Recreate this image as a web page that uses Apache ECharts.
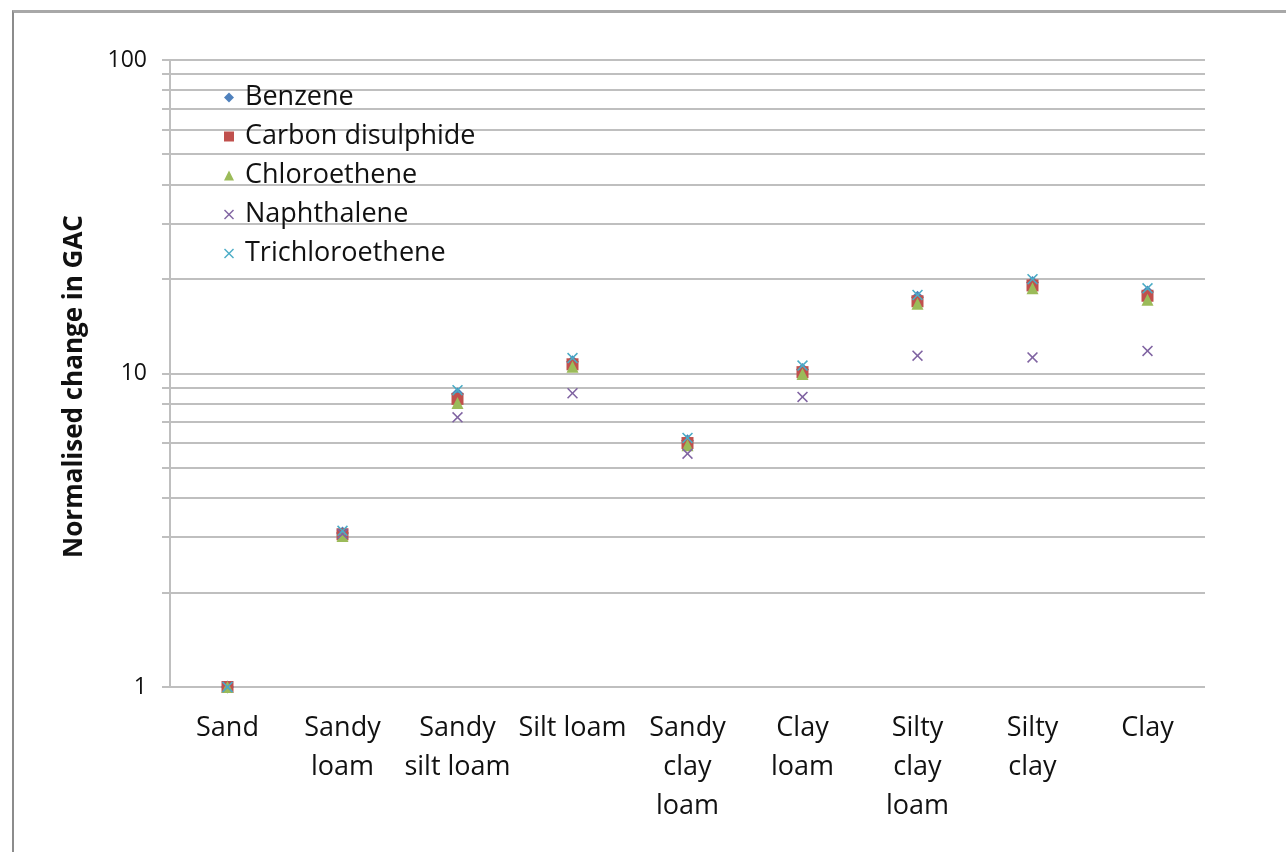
<!DOCTYPE html>
<html>
<head>
<meta charset="utf-8">
<title>Normalised change in GAC by soil type</title>
<script src="https://cdn.jsdelivr.net/npm/echarts@6/dist/echarts.min.js"></script>
<style>
  html, body { margin: 0; padding: 0; background: #ffffff; }
  #frame {
    position: absolute; left: 12px; top: 10px; width: 1300px; height: 860px;
    border-top: 3px solid #a8a8a8; border-left: 2px solid #8c8c8c;
  }
  #chart { position: absolute; left: 0; top: 0; width: 1286px; height: 852px; }
</style>
</head>
<body>
<div id="frame"></div>
<div id="chart"></div>
<script>
// Soil texture classes along the category axis
const soilTypes = ['Sand', 'Sandy\nloam', 'Sandy\nsilt loam', 'Silt loam', 'Sandy\nclay\nloam',
                   'Clay\nloam', 'Silty\nclay\nloam', 'Silty\nclay', 'Clay'];

// Normalised change in GAC for each contaminant
const benzene         = [1, 3.10, 8.60, 10.9, 6.10, 10.3, 17.5, 19.5, 18.2];
const carbonDisulph   = [1, 3.07, 8.30, 10.7, 6.00, 10.1, 17.0, 19.1, 17.7];
const chloroethene    = [1, 3.03, 8.05, 10.5, 5.90, 9.97, 16.7, 18.7, 17.2];
const naphthalene     = [1, 3.08, 7.25, 8.65, 5.55, 8.42, 11.4, 11.25, 11.8];
const trichloroethene = [1, 3.15, 8.85, 11.2, 6.23, 10.6, 17.8, 20.0, 18.7];

// Horizontal rules of the log axis: every 1..9 multiple of each decade
const gridValues = [1, 2, 3, 4, 5, 6, 7, 8, 9, 10, 20, 30, 40, 50, 60, 70, 80, 90, 100];

const FONT = '"Open Sans", "DejaVu Sans", sans-serif';
const TEXT = '#111111';
const RULE = '#bfbfbf';

// Simple X cross used for the two "x" style markers
const crossPath = 'path://M1,0L5,4L9,0L10,1L6,5L10,9L9,10L5,6L1,10L0,9L4,5L0,1Z';

const chart = echarts.init(document.getElementById('chart'), null, { renderer: 'canvas' });

function scatter(name, data, symbol, color, size) {
  return {
    name: name,
    type: 'scatter',
    data: data,
    symbol: symbol,
    symbolSize: size,
    itemStyle: { color: color, opacity: 1 },
    z: 5
  };
}

chart.setOption({
  backgroundColor: 'transparent',
  animation: false,
  grid: { left: 170, right: 81, top: 60, bottom: 165, containLabel: false },
  legend: {
    data: ['Benzene', 'Carbon disulphide', 'Chloroethene', 'Naphthalene', 'Trichloroethene'],
    orient: 'vertical',
    left: 219,
    top: 79,
    itemWidth: 10,
    itemHeight: 10,
    itemGap: 12,
    textStyle: {
      fontFamily: FONT, fontSize: 27, lineHeight: 27, color: TEXT,
      padding: [0, 0, 0, 6]
    }
  },
  xAxis: {
    type: 'category',
    data: soilTypes,
    boundaryGap: true,
    axisLine: { show: false },
    axisTick: { show: false },
    splitLine: { show: false },
    axisLabel: {
      interval: 0,
      margin: 22,
      fontFamily: FONT,
      fontSize: 27,
      lineHeight: 39,
      color: TEXT
    }
  },
  yAxis: {
    type: 'log',
    logBase: 10,
    min: 1,
    max: 100,
    name: 'Normalised change in GAC',
    nameLocation: 'middle',
    nameGap: 82,
    nameRotate: 90,
    nameTextStyle: {
      fontFamily: FONT, fontSize: 26, fontWeight: 'bold', color: TEXT,
      padding: [0, 26, 0, 0]
    },
    axisLine: { show: true, lineStyle: { color: RULE, width: 2 } },
    axisTick: { show: false },
    splitLine: { show: false },
    axisLabel: { margin: 23, fontFamily: FONT, fontSize: 23, color: TEXT }
  },
  series: [
    {
      name: 'rules',
      type: 'custom',
      silent: true,
      clip: false,
      z: 1,
      data: gridValues.map(v => [0, v]),
      encode: { x: 0, y: 1 },
      renderItem: function (params, api) {
        const cs = params.coordSys;
        const y = Math.round(api.coord([0, api.value(1)])[1]);
        return {
          type: 'line',
          shape: { x1: cs.x - 8, y1: y, x2: cs.x + cs.width, y2: y },
          style: { stroke: RULE, lineWidth: 2 }
        };
      }
    },
    scatter('Benzene', benzene, 'diamond', '#4f81bd', 13),
    scatter('Carbon disulphide', carbonDisulph, 'rect', '#c0504d', 12),
    scatter('Chloroethene', chloroethene, 'triangle', '#9bbb59', 12),
    scatter('Naphthalene', naphthalene, crossPath, '#8064a2', 11),
    scatter('Trichloroethene', trichloroethene, crossPath, '#4bacc6', 11)
  ]
});
</script>
</body>
</html>
